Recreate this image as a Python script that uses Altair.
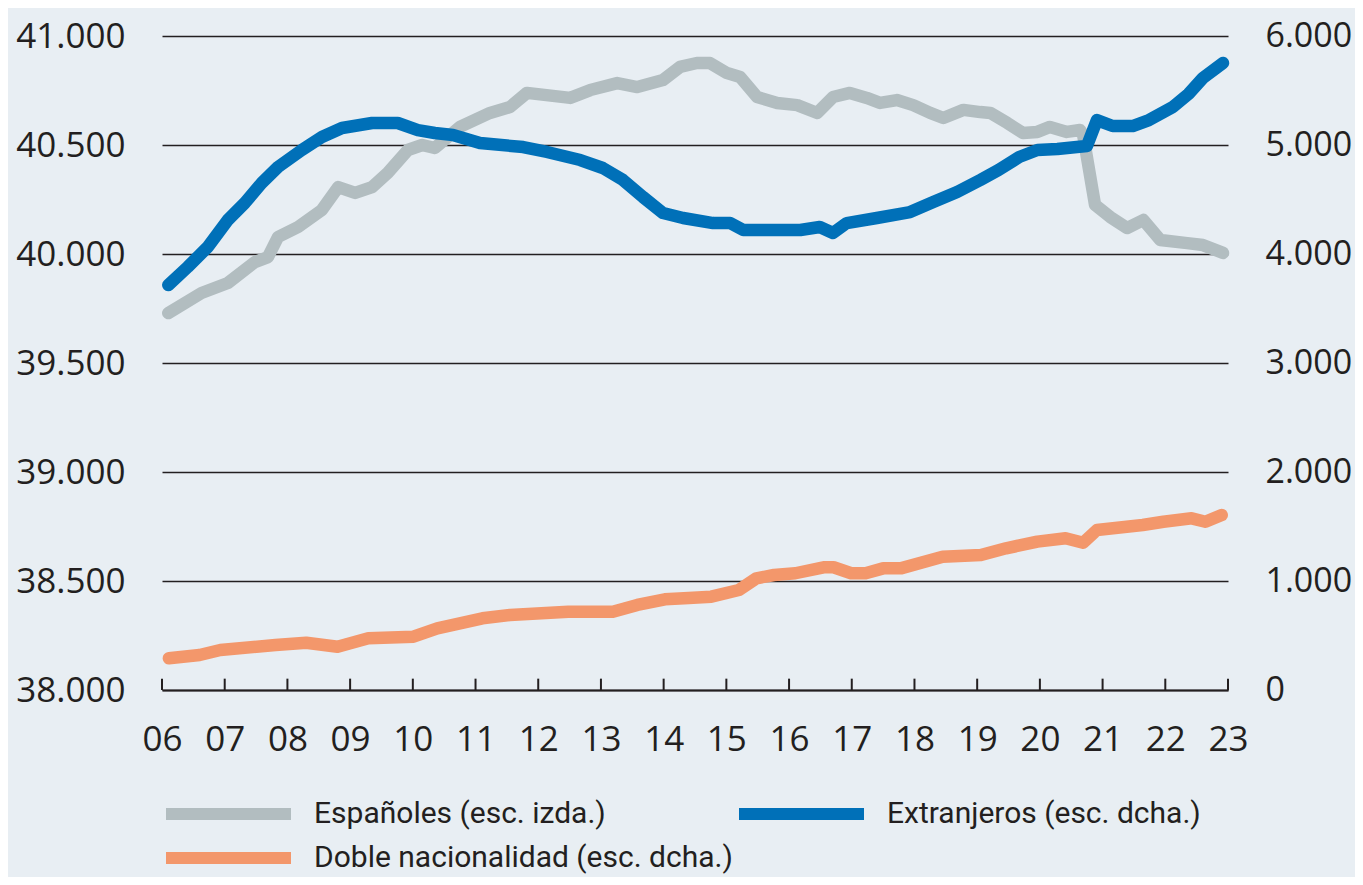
import altair as alt
import pandas as pd

# ---- data (decimal year, value) ----
esp_t = [2006.10, 2006.63, 2007.05, 2007.48, 2007.69, 2007.85, 2008.17, 2008.55, 2008.81, 2009.08,
         2009.35, 2009.60, 2009.92, 2010.15, 2010.35, 2010.75, 2011.23, 2011.55, 2011.82, 2012.51,
         2012.83, 2013.26, 2013.58, 2013.99, 2014.26, 2014.53, 2014.74, 2015.01, 2015.22, 2015.49,
         2015.81, 2016.13, 2016.45, 2016.70, 2016.97, 2017.24, 2017.45, 2017.72, 2017.98, 2018.25,
         2018.46, 2018.78, 2019.05, 2019.21, 2019.48, 2019.73, 2019.96, 2020.16, 2020.43, 2020.64,
         2020.69, 2020.88, 2021.12, 2021.39, 2021.65, 2021.92, 2022.35, 2022.60, 2022.92]
esp_v = [39729, 39821, 39867, 39963, 39986, 40078, 40124, 40202, 40307, 40280,
         40307, 40372, 40477, 40500, 40486, 40583, 40647, 40674, 40739, 40716,
         40752, 40784, 40766, 40798, 40858, 40876, 40876, 40830, 40812, 40720,
         40693, 40683, 40647, 40720, 40739, 40716, 40693, 40706, 40683, 40647,
         40624, 40661, 40651, 40647, 40601, 40555, 40560, 40583, 40560, 40569,
         40546, 40225, 40170, 40119, 40156, 40064, 40050, 40041, 40005]

ext_t = [2006.10, 2006.41, 2006.73, 2007.05, 2007.32, 2007.59, 2007.85, 2008.23, 2008.55, 2008.87,
         2009.35, 2009.76, 2010.08, 2010.35, 2010.64, 2011.07, 2011.76, 2012.14, 2012.67, 2013.03,
         2013.35, 2013.67, 2013.99, 2014.31, 2014.79, 2015.06, 2015.27, 2016.18, 2016.49, 2016.70,
         2016.92, 2017.40, 2017.93, 2018.30, 2018.68, 2019.05, 2019.34, 2019.67, 2019.96, 2020.28,
         2020.59, 2020.75, 2020.91, 2021.16, 2021.48, 2021.74, 2022.12, 2022.37, 2022.60, 2022.92]
ext_v = [3715, 3881, 4064, 4312, 4468, 4651, 4798, 4954, 5073, 5156,
         5202, 5202, 5137, 5110, 5092, 5018, 4981, 4936, 4862, 4789,
         4679, 4523, 4376, 4330, 4284, 4284, 4220, 4220, 4248, 4193,
         4284, 4330, 4385, 4477, 4569, 4679, 4770, 4890, 4954, 4963,
         4982, 4991, 5229, 5174, 5174, 5229, 5348, 5468, 5615, 5752]

dob_t = [2006.11, 2006.60, 2006.93, 2007.81, 2008.30, 2008.80, 2009.29, 2010.01, 2010.39, 2011.11,
         2011.55, 2012.48, 2013.19, 2013.58, 2014.02, 2014.40, 2014.76, 2015.20, 2015.48, 2015.76,
         2016.10, 2016.55, 2016.71, 2016.99, 2017.22, 2017.50, 2017.78, 2018.45, 2019.06, 2019.46,
         2019.96, 2020.41, 2020.69, 2020.91, 2021.64, 2021.97, 2022.42, 2022.64, 2022.90]
dob_v = [291, 321, 367, 413, 434, 397, 474, 489, 566, 658,
         688, 718, 718, 780, 832, 845, 856, 917, 1025, 1055,
         1071, 1126, 1126, 1071, 1071, 1116, 1116, 1223, 1238, 1300,
         1361, 1392, 1351, 1468, 1514, 1544, 1575, 1544, 1605]

series = ["Españoles (esc. izda.)", "Extranjeros (esc. dcha.)", "Doble nacionalidad (esc. dcha.)"]
colors = ["#b2bdc0", "#0070b8", "#f3976b"]
years = list(range(2006, 2024))
left_ticks = [38000, 38500, 39000, 39500, 40000, 40500, 41000]
right_ticks = [0, 1000, 2000, 3000, 4000, 5000, 6000]

df = pd.concat([
    pd.DataFrame({"t": esp_t, "v": esp_v, "serie": series[0]}),
    pd.DataFrame({"t": ext_t, "v": ext_v, "serie": series[1]}),
    pd.DataFrame({"t": dob_t, "v": dob_v, "serie": series[2]}),
])
years_df = pd.DataFrame({"t": years})

TXT = "#231f20"
AX_FONT = "Open Sans"
LEG_FONT = "Roboto"
num_fmt = "replace(format(datum.value, ','), ',', '.')"

x_enc = alt.X(
    "t:Q",
    scale=alt.Scale(domain=[2006, 2023], nice=False, zero=False),
    axis=alt.Axis(values=years, labelExpr="substring(toString(datum.value), 2, 4)",
                  title=None, grid=False, ticks=False, domain=True, domainColor=TXT,
                  domainWidth=2, labelPadding=32, labelFontSize=35, labelFont=AX_FONT,
                  labelColor=TXT, labelOverlap=False, labelFlush=False, labelBound=False),
)

legend = alt.Legend(
    title=None, orient="none", legendX=-2, legendY=763, direction="horizontal",
    columns=2, symbolType="stroke", symbolSize=15625,
    symbolStrokeWidth=12, clipHeight=30, labelFont=LEG_FONT, labelFontSize=30,
    labelColor=TXT, labelOffset=17, columnPadding=0, rowPadding=14,
    labelLimit=0, padding=0,
)
color_enc = alt.Color("serie:N", scale=alt.Scale(domain=series, range=colors), legend=legend)

base = alt.Chart(df)
line_style = dict(strokeWidth=12.5, strokeCap="round", strokeJoin="round")

y_left = alt.Y("v:Q", scale=alt.Scale(domain=[38000, 41000], nice=False, zero=False),
               axis=alt.Axis(orient="left", values=left_ticks, labelExpr=num_fmt, title=None,
                             domain=False, ticks=False, grid=True, gridColor=TXT, gridWidth=1.6,
                             labelPadding=37, labelFontSize=35, labelFont=AX_FONT,
                             labelColor=TXT, labelOverlap=False))
y_right = alt.Y("v:Q", scale=alt.Scale(domain=[0, 6000], nice=False, zero=False),
                axis=alt.Axis(orient="right", values=right_ticks, labelExpr=num_fmt, title=None,
                              domain=False, ticks=False, grid=False, labelPadding=37,
                              labelFontSize=34, labelFont=AX_FONT, labelColor=TXT,
                              labelOverlap=False))

gray = base.transform_filter(alt.datum.serie == series[0]).mark_line(**line_style).encode(
    x=x_enc, y=y_left, color=color_enc)
xticks = alt.Chart(years_df).mark_rule(color=TXT, strokeWidth=2).encode(
    x=x_enc, y=alt.datum(38000), y2=alt.datum(38052))
left = alt.layer(gray, xticks)

blue = base.transform_filter(alt.datum.serie == series[1]).mark_line(**line_style).encode(
    x=x_enc, y=y_right, color=color_enc)
orange = base.transform_filter(alt.datum.serie == series[2]).mark_line(**line_style).encode(
    x=x_enc, y=y_right, color=color_enc)
right = alt.layer(blue, orange)

chart = alt.layer(left, right).resolve_scale(y="independent").properties(
    width=1066, height=654,
    autosize=alt.AutoSizeParams(type="none"),
    padding={"left": 154, "top": 28, "right": 127, "bottom": 187},
    background="#e8eef3",
).configure_view(stroke=None)

chart.save("out.html", embed_options={"renderer": "svg", "actions": False})
